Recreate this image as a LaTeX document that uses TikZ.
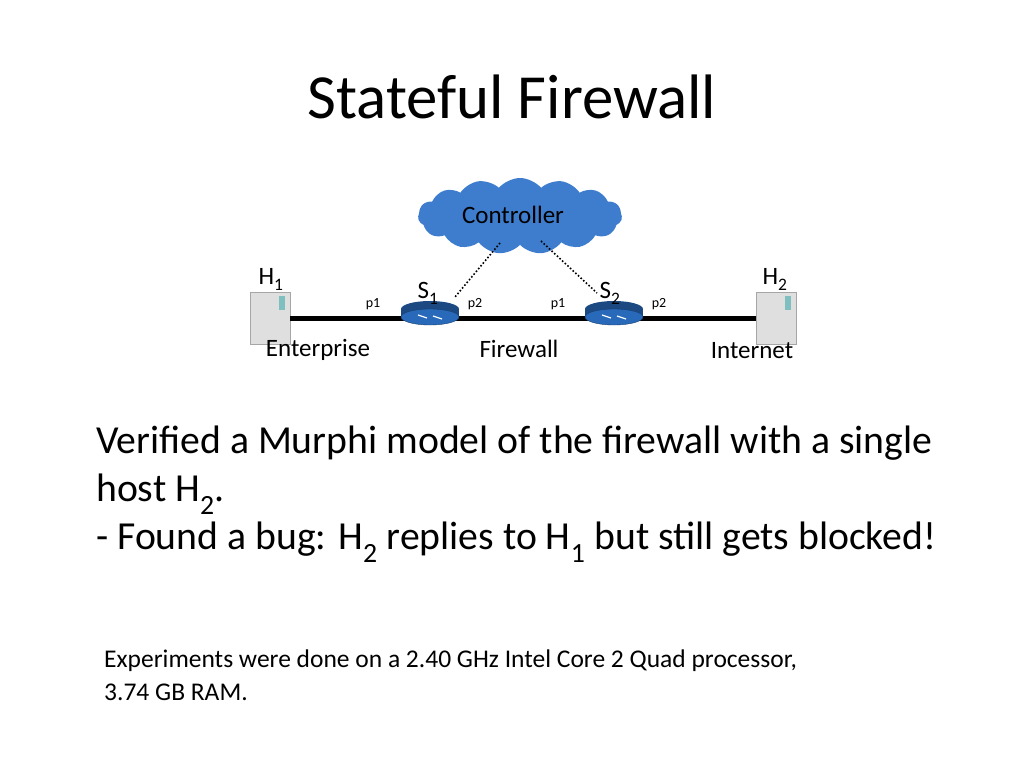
\documentclass[tikz,border=0pt]{standalone}
\usepackage{fontspec}
\setmainfont{Carlito}
\usetikzlibrary{shapes.symbols, shapes.geometric, positioning}
\definecolor{cloudblue}{RGB}{62,125,205}
\definecolor{routerblue}{RGB}{40,105,185}
\tikzset{
    lbl/.style={font=\fontsize{25}{30}\selectfont, inner sep=0pt},
    port/.style={font=\fontsize{14}{16}\selectfont, inner sep=0pt},
    server/.style={draw=gray!70, fill=gray!25, minimum width=40pt, minimum height=52pt, inner sep=0pt},
    router/.style={ellipse, draw=routerblue!60!black, fill=routerblue, minimum width=58pt, minimum height=16pt, inner sep=0pt},
    body/.style={font=\fontsize{39.7}{48}\selectfont, anchor=base west, inner sep=0pt},
    note/.style={font=\fontsize{25.5}{30}\selectfont, anchor=west, inner sep=0pt},
}
\newcommand{\sub}[1]{\raisebox{-0.2ex}[0pt][0pt]{\textsubscript{#1}}}
\begin{document}
\begin{tikzpicture}[x=1pt, y=-1pt]
    \useasboundingbox (0,0) rectangle (1024,768);
    % Title
    \node[font=\fontsize{62.8}{70}\selectfont, inner sep=0pt] (title) at (512,97) {Stateful Firewall};

    % Network
    \node[cloud, cloud puffs=15, cloud puff arc=100, aspect=2.8, fill=cloudblue, minimum width=204pt, minimum height=76pt, inner sep=0pt] (ctrl) at (520,216) {};
    \node[lbl] at (513,215) {Controller};

    \node[server] (h1) at (270,318) {};
    \node[server] (h2) at (776,318) {};
    \fill[teal!50] ([xshift=9pt,yshift=8pt]h1.center) rectangle ++(6,-14);
    \fill[teal!50] ([xshift=9pt,yshift=8pt]h2.center) rectangle ++(6,-14);
    \coordinate (s1) at (430,317);
    \coordinate (s2) at (614,317);

    \draw[line width=5pt] (h1.east) -- (h2.west);
    \foreach \s in {s1,s2} {
        \fill[routerblue!70!black] ([xshift=-29pt]\s) rectangle ([xshift=29pt,yshift=8pt]\s);
        \fill[routerblue!70!black] ([yshift=8pt]\s) ellipse (29pt and 8pt);
        \node[router] at (\s) {};
        \draw[white, line width=1.2pt] ([xshift=-12pt,yshift=2pt]\s) -- ([xshift=-3pt,yshift=-1pt]\s)
            ([xshift=12pt,yshift=-2pt]\s) -- ([xshift=3pt,yshift=1pt]\s);
    }

    \coordinate (c1) at (500,243);
    \coordinate (c2) at (541,241);
    \coordinate (d1) at (455,297);
    \coordinate (d2) at (597,293);
    \draw[dotted, line width=1.6pt] (c1) -- (d1);
    \draw[dotted, line width=1.6pt] (c2) -- (d2);

    \node[lbl, anchor=base] at (271,284) {H\sub{1}};
    \node[lbl, anchor=base] at (775,284) {H\sub{2}};
    \node[lbl, anchor=base] at (428,298) {S\sub{1}};
    \node[lbl, anchor=base] at (610,298) {S\sub{2}};
    \node[port] at (373,304) {p1};
    \node[port] at (475,304) {p2};
    \node[port] at (558,304) {p1};
    \node[port] at (659,304) {p2};
    \node[lbl] (ent) at (318,350) {Enterprise};
    \node[lbl] (fw) at (519,349) {Firewall};
    \node[lbl] (inet) at (752,351) {Internet};

    % Text
    \node[body] (t1) at (96,453) {Verified a Murphi model of the firewall with a single};
    \node[body] (t2) at (96,501) {host H\sub{2}.};
    \node[body] (t3) at (96,549) {- Found a bug: H\sub{2} replies to H\sub{1} but still gets blocked!};
    \node[note] (n1) at (104,661) {Experiments were done on a 2.40 GHz Intel Core 2 Quad processor,};
    \node[note] (n2) at (104,692) {3.74 GB RAM.};
\end{tikzpicture}
\end{document}
